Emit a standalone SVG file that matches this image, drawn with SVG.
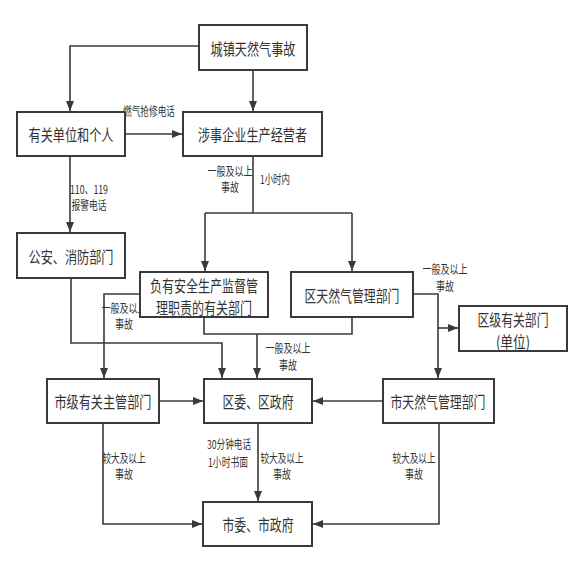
<svg xmlns="http://www.w3.org/2000/svg" width="584" height="572" viewBox="0 0 584 572">
<style>
.box{fill:#fff;stroke:#3a3a3a;stroke-width:2}
.nt{font-family:"Noto Sans CJK SC","Noto Sans",sans-serif;font-size:16px;fill:#333;text-anchor:middle;dominant-baseline:central}
.lt{font-family:"Noto Sans CJK SC","Noto Sans",sans-serif;font-size:12px;fill:#333;text-anchor:middle;dominant-baseline:central}
.ln{fill:none;stroke:#3a3a3a;stroke-width:1.6}
</style>
<defs>
<marker id="ah" markerWidth="10" markerHeight="10" refX="10" refY="5" orient="auto" markerUnits="userSpaceOnUse">
<path d="M0,1 L10,5 L0,9 Z" fill="#3a3a3a"/>
</marker>
</defs>
<rect width="584" height="572" fill="#fff"/>
<g id="connectors">
<path class="ln" d="M199,46 H70 V111" marker-end="url(#ah)"/>
<path class="ln" d="M253,70 V111" marker-end="url(#ah)"/>
<path class="ln" d="M125,134 H182" marker-end="url(#ah)"/>
<path class="ln" d="M70,156 V232" marker-end="url(#ah)"/>
<path class="ln" d="M253,156 V213"/>
<path class="ln" d="M205,213 H352"/>
<path class="ln" d="M205,213 V271" marker-end="url(#ah)"/>
<path class="ln" d="M352,213 V271" marker-end="url(#ah)"/>
<path class="ln" d="M71,278 V343 H222 V378" marker-end="url(#ah)"/>
<path class="ln" d="M140,294 H104 V378" marker-end="url(#ah)"/>
<path class="ln" d="M204,317 V334 H352 V317"/>
<path class="ln" d="M257,334 V378" marker-end="url(#ah)"/>
<path class="ln" d="M413,294 H438 V378" marker-end="url(#ah)"/>
<path class="ln" d="M438,328 H458" marker-end="url(#ah)"/>
<path class="ln" d="M159,401 H203" marker-end="url(#ah)"/>
<path class="ln" d="M383,401 H313" marker-end="url(#ah)"/>
<path class="ln" d="M103,423 V524 H202" marker-end="url(#ah)"/>
<path class="ln" d="M258,423 V501" marker-end="url(#ah)"/>
<path class="ln" d="M439,423 V524 H313" marker-end="url(#ah)"/>
</g>
<g id="labels">
<text class="lt" x="149" y="110" textLength="52" lengthAdjust="spacingAndGlyphs">燃气抢修电话</text>
<text class="lt" x="89" y="188" textLength="38" lengthAdjust="spacingAndGlyphs">110、119</text>
<text class="lt" x="89" y="204" textLength="35" lengthAdjust="spacingAndGlyphs">报警电话</text>
<text class="lt" x="230" y="170" textLength="45" lengthAdjust="spacingAndGlyphs">一般及以上</text>
<text class="lt" x="230" y="186" textLength="18" lengthAdjust="spacingAndGlyphs">事故</text>
<text class="lt" x="275" y="178" textLength="30" lengthAdjust="spacingAndGlyphs">1小时内</text>
<text class="lt" x="124" y="307" textLength="45" lengthAdjust="spacingAndGlyphs">一般及以上</text>
<text class="lt" x="124" y="323" textLength="18" lengthAdjust="spacingAndGlyphs">事故</text>
<text class="lt" x="288" y="347" textLength="45" lengthAdjust="spacingAndGlyphs">一般及以上</text>
<text class="lt" x="288" y="364" textLength="18" lengthAdjust="spacingAndGlyphs">事故</text>
<text class="lt" x="445" y="268" textLength="45" lengthAdjust="spacingAndGlyphs">一般及以上</text>
<text class="lt" x="445" y="285" textLength="18" lengthAdjust="spacingAndGlyphs">事故</text>
<text class="lt" x="124" y="457" textLength="43" lengthAdjust="spacingAndGlyphs">较大及以上</text>
<text class="lt" x="124" y="473" textLength="18" lengthAdjust="spacingAndGlyphs">事故</text>
<text class="lt" x="229" y="443" textLength="44" lengthAdjust="spacingAndGlyphs">30分钟电话</text>
<text class="lt" x="228" y="461" textLength="40" lengthAdjust="spacingAndGlyphs">1小时书面</text>
<text class="lt" x="282" y="457" textLength="43" lengthAdjust="spacingAndGlyphs">较大及以上</text>
<text class="lt" x="282" y="473" textLength="18" lengthAdjust="spacingAndGlyphs">事故</text>
<text class="lt" x="414" y="457" textLength="43" lengthAdjust="spacingAndGlyphs">较大及以上</text>
<text class="lt" x="414" y="473" textLength="18" lengthAdjust="spacingAndGlyphs">事故</text>
</g>
<g id="n1"><rect class="box" x="199" y="25" width="108" height="45"/><text class="nt" x="253" y="47.5" textLength="85" lengthAdjust="spacingAndGlyphs">城镇天然气事故</text></g>
<g id="n2"><rect class="box" x="17" y="112" width="108" height="44"/><text class="nt" x="71" y="134" textLength="85" lengthAdjust="spacingAndGlyphs">有关单位和个人</text></g>
<g id="n3"><rect class="box" x="183" y="112" width="139" height="44"/><text class="nt" x="252.5" y="134" textLength="109" lengthAdjust="spacingAndGlyphs">涉事企业生产经营者</text></g>
<g id="n4"><rect class="box" x="17" y="233" width="108" height="45"/><text class="nt" x="71" y="256" textLength="85" lengthAdjust="spacingAndGlyphs">公安、消防部门</text></g>
<g id="n5"><rect class="box" x="140" y="272" width="128" height="45"/><text class="nt" x="204" y="285" textLength="108" lengthAdjust="spacingAndGlyphs">负有安全生产监督管</text><text class="nt" x="204" y="307" textLength="96" lengthAdjust="spacingAndGlyphs">理职责的有关部门</text></g>
<g id="n6"><rect class="box" x="291" y="272" width="122" height="45"/><text class="nt" x="352" y="295" textLength="95" lengthAdjust="spacingAndGlyphs">区天然气管理部门</text></g>
<g id="n7"><rect class="box" x="459" y="306" width="108" height="45"/><text class="nt" x="513" y="319" textLength="71" lengthAdjust="spacingAndGlyphs">区级有关部门</text><text class="nt" x="513" y="341" textLength="34" lengthAdjust="spacingAndGlyphs">(单位)</text></g>
<g id="n8"><rect class="box" x="47" y="379" width="112" height="44"/><text class="nt" x="103" y="401" textLength="97" lengthAdjust="spacingAndGlyphs">市级有关主管部门</text></g>
<g id="n9"><rect class="box" x="204" y="379" width="108" height="44"/><text class="nt" x="258" y="401" textLength="71" lengthAdjust="spacingAndGlyphs">区委、区政府</text></g>
<g id="n10"><rect class="box" x="383" y="379" width="111" height="44"/><text class="nt" x="438" y="401" textLength="95" lengthAdjust="spacingAndGlyphs">市天然气管理部门</text></g>
<g id="n11"><rect class="box" x="203" y="502" width="109" height="44"/><text class="nt" x="258" y="524" textLength="71" lengthAdjust="spacingAndGlyphs">市委、市政府</text></g>
</svg>
